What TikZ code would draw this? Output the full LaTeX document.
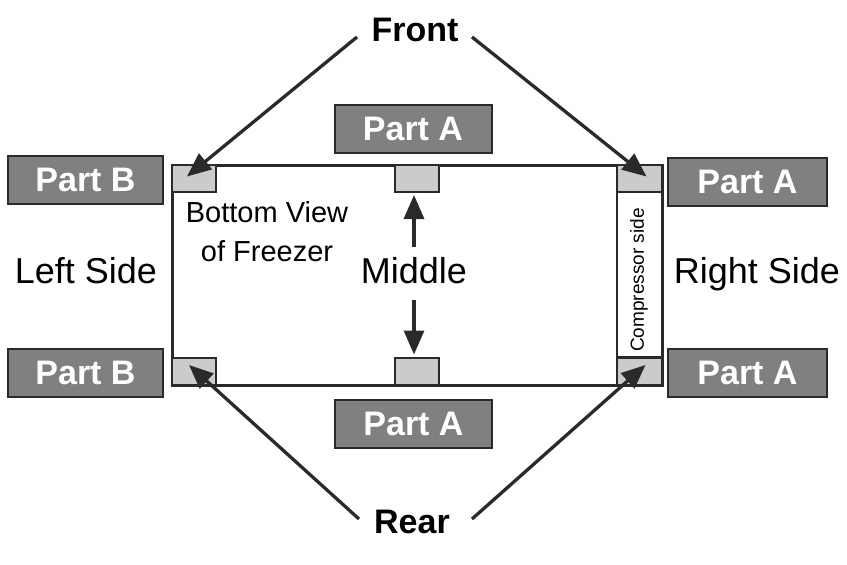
\documentclass[tikz,border=0pt]{standalone}
\usepackage{fontspec}
\setmainfont{Liberation Sans}
\usetikzlibrary{arrows.meta}
\definecolor{boxgray}{HTML}{808080}
\definecolor{padgray}{HTML}{CBCBCB}
\definecolor{edge}{HTML}{2A2A2A}
\begin{document}
\begin{tikzpicture}[x=1pt,y=-1pt,
  partbox/.style={draw=edge, line width=2pt, fill=boxgray, text=white, font=\fontsize{34}{36}\selectfont\bfseries, minimum width=157pt, minimum height=48pt, inner sep=0pt},
  pad/.style={draw=edge, line width=2pt, fill=padgray, inner sep=0pt, minimum width=44pt, minimum height=27pt},
  label/.style={text=black, font=\fontsize{36}{38}\selectfont, inner sep=0pt},
  bold/.style={text=black, font=\fontsize{34}{36}\selectfont\bfseries, inner sep=0pt},
  arr/.style={draw=edge, line width=3.3pt, -{Triangle[length=24pt,width=20pt]}}
]
\useasboundingbox (0,0) rectangle (847,565);
% main rectangle
\node[draw=edge, line width=3pt, minimum width=490pt, minimum height=220pt, inner sep=0pt] (body) at (417,275) {};
% compressor strip
\node[draw=edge, line width=2pt, fill=white, minimum width=45pt, minimum height=165pt, inner sep=0pt] (comp) at (639.5,274.5) {};
\node[rotate=90, font=\fontsize{19}{20}\selectfont, inner sep=0pt] (comptext) at (639,280) {Compressor side};
% pads
\node[pad] (tl) at (194,178.5) {};
\node[pad] (tm) at (416.5,178.5) {};
\node[pad, minimum width=45pt] (tr) at (639.5,178.5) {};
\node[pad] (bl) at (194,371) {};
\node[pad] (bm) at (416.5,371) {};
\node[pad, minimum width=45pt] (br) at (639.5,371) {};
% part boxes
\node[partbox, minimum width=155pt] (pb1) at (85.5,180) {Part B};
\node[partbox, minimum width=155pt] (pb2) at (85.5,372.5) {Part B};
\node[partbox] (pa1) at (413,129) {Part A};
\node[partbox] (pa2) at (413.5,423.5) {Part A};
\node[partbox, minimum width=159pt] (pa3) at (747.5,181.5) {Part A};
\node[partbox, minimum width=159pt] (pa4) at (747.5,372.5) {Part A};
% labels
\node[bold] (front) at (415,30) {Front};
\node[bold] (rear) at (412,522) {Rear};
\node[label] (left) at (86,271) {Left Side};
\node[label] (right) at (757,274) {Right Side};
\node[label] (middle) at (414,271) {Middle};
\node[align=center, font=\fontsize{29}{39}\selectfont, inner sep=0pt] (bv) at (267,232) {Bottom View\\of Freezer};
% arrow coordinates
\coordinate (fl) at (357,37);
\coordinate (fr) at (472,37);
\coordinate (rl) at (359,519);
\coordinate (rr) at (472,519);
\coordinate (mt) at (414,247);
\coordinate (mb) at (414,300);
% arrows
\draw[arr] (fl) -- ([xshift=-7pt,yshift=2pt]tl.center);
\draw[arr] (fr) -- ([xshift=7pt,yshift=2pt]tr.center);
\draw[arr] (rl) -- ([xshift=-5pt,yshift=6pt]bl.center);
\draw[arr] (rr) -- ([xshift=6pt,yshift=6pt]br.center);
\draw[arr] (mt) -- ([xshift=-2.5pt,yshift=-2pt]tm.south);
\draw[arr] (mb) -- ([xshift=-2.5pt,yshift=2pt]bm.north);
\end{tikzpicture}
\end{document}
